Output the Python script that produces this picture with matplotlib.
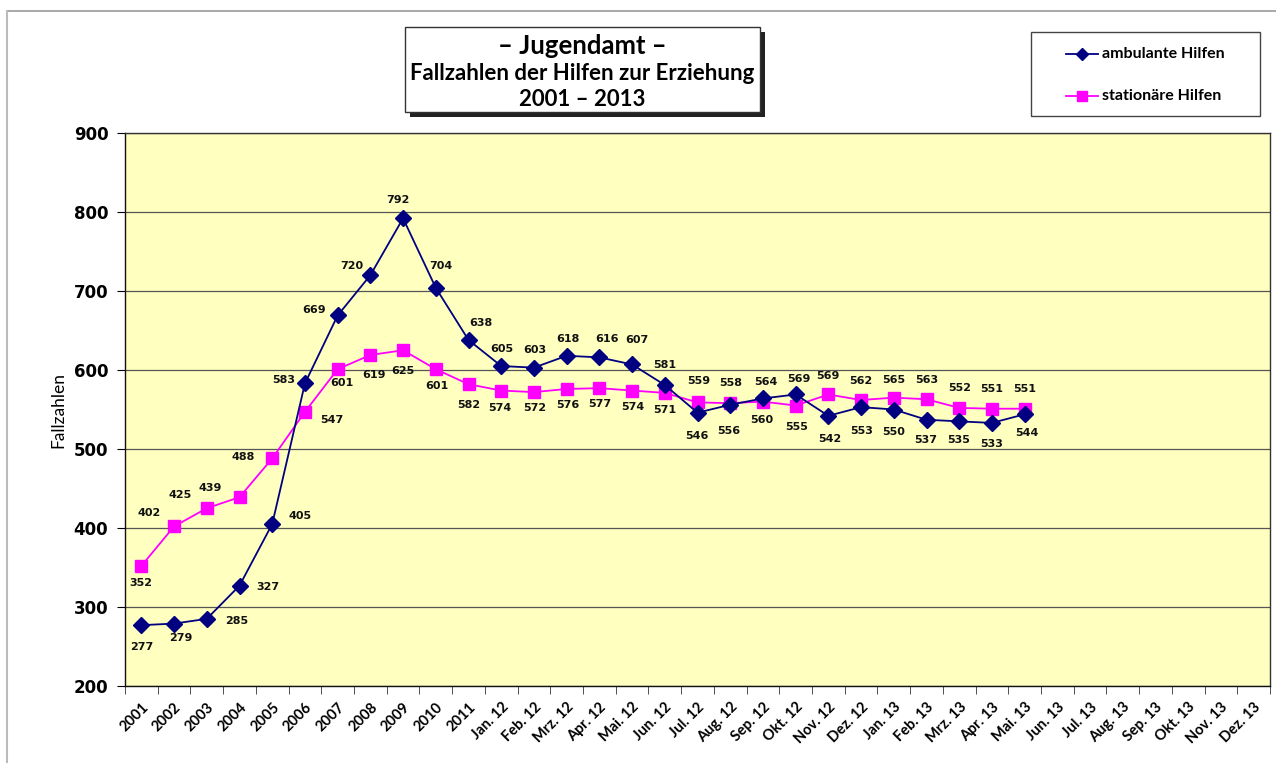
import matplotlib
matplotlib.use("Agg")
import matplotlib.pyplot as plt
from matplotlib.patches import Rectangle
from matplotlib.lines import Line2D

# categories on the x axis
years = [str(y) for y in range(2001, 2012)]
months = ["Jan.", "Feb.", "Mrz.", "Apr.", "Mai.", "Jun.",
          "Jul.", "Aug.", "Sep.", "Okt.", "Nov.", "Dez."]
categories = years + [m + " 12" for m in months] + [m + " 13" for m in months]

# case numbers (data until Mai. 13)
ambulant = [277, 279, 285, 327, 405, 583, 669, 720, 792, 704, 638,
            605, 603, 618, 616, 607, 581, 546, 556, 564, 569, 542, 553,
            550, 537, 535, 533, 544]
stationaer = [352, 402, 425, 439, 488, 547, 601, 619, 625, 601, 582,
              574, 572, 576, 577, 574, 571, 559, 558, 560, 555, 569, 562,
              565, 563, 552, 551, 551]

# where each data label sits relative to its point (pixels)
amb_off = [(0, -22), (7, -14), (30, -2), (28, -1), (28, 8), (-21, 3),
           (-24, 5), (-19, 9), (-5, 18), (5, 22), (12, 17), (1, 17),
           (1, 18), (1, 17), (8, 18), (5, 24), (0, 20), (-1, -23),
           (-1, -26), (3, 16), (3, 15), (1, -23), (1, -24), (0, -22),
           (-1, -20), (-1, -19), (0, -21), (2, -19)]
sta_off = [(-1, -17), (-25, 13), (-27, 13), (-29, 9), (-29, 1), (27, -8),
           (4, -14), (4, -20), (0, -21), (1, -17), (0, -21), (-1, -17),
           (1, -16), (1, -16), (0, -16), (1, -16), (0, -17), (1, 21),
           (0, 20), (-1, -18), (1, -21), (0, 18), (0, 19), (0, 18),
           (0, 19), (0, 20), (0, 20), (0, 20)]

navy = "#000080"
pink = "#FF00FF"
W, H = 1276, 763

fig = plt.figure(figsize=(W / 100, H / 100), dpi=100)
ax = fig.add_axes([125 / W, 1 - 686 / H, 1145 / W, 553 / H])
ax.set_facecolor("#FFFFC0")

# outer frame lines of the chart area
fig.add_artist(Line2D([7 / W, 1], [1 - 11 / H, 1 - 11 / H],
                      color="#999999", lw=1.2))
fig.add_artist(Line2D([7 / W, 7 / W], [0, 1 - 11 / H],
                      color="#bbbbbb", lw=1.5))

x_amb = list(range(len(ambulant)))
x_sta = list(range(len(stationaer)))

ax.plot(x_sta, stationaer, color=pink, lw=1.3, marker="s", ms=8.5,
        zorder=3)
ax.plot(x_amb, ambulant, color=navy, lw=1.3, marker="D", ms=8,
        zorder=4)

for x, v, o in zip(x_amb, ambulant, amb_off):
    ax.annotate(str(v), (x, v), xytext=o, textcoords="offset pixels",
                ha="center", va="center", fontsize=8, fontweight="bold",
                color="#111111", zorder=5)
for x, v, o in zip(x_sta, stationaer, sta_off):
    ax.annotate(str(v), (x, v), xytext=o, textcoords="offset pixels",
                ha="center", va="center", fontsize=8, fontweight="bold",
                color="#111111", zorder=5)

ax.set_ylim(200, 900)
ax.set_yticks(range(200, 901, 100))
ax.yaxis.grid(True, color="#555555", lw=0.9)
ax.set_axisbelow(True)
ax.tick_params(axis="y", direction="out", length=6, pad=6, labelsize=12)
for lab in ax.get_yticklabels():
    lab.set_fontweight("bold")
ax.set_ylabel("Fallzahlen", fontsize=12.5, family="Lato", labelpad=5)

ax.set_xlim(-0.5, len(categories) - 0.5)
ax.set_xticks(range(len(categories)))
ax.set_xticklabels(categories, rotation=45, ha="right",
                   rotation_mode="anchor", family="Lato",
                   fontweight="bold", fontsize=10.5)
ax.tick_params(axis="x", length=0, pad=10)
ax.set_xticks([i - 0.5 for i in range(len(categories) + 1)], minor=True)
ax.tick_params(axis="x", which="minor", direction="out", length=6,
               color="#333333")

for s in ax.spines.values():
    s.set_color("#333333")
    s.set_linewidth(1.0)
ax.spines["left"].set_color("#111111")
ax.spines["bottom"].set_color("#111111")

# title box with shadow
bx, by, bw, bh = 405, 27, 355, 85
fig.add_artist(Rectangle(((bx + 5) / W, 1 - (by + bh + 5) / H),
                         bw / W, bh / H, transform=fig.transFigure,
                         facecolor="#222222", edgecolor="none"))
fig.add_artist(Rectangle((bx / W, 1 - (by + bh) / H), bw / W,
                         bh / H, transform=fig.transFigure,
                         facecolor="white", edgecolor="#333333", lw=1.0))
cx = (bx + bw / 2) / W
fig.text(cx, 1 - 46 / H, "– Jugendamt –", ha="center", va="center",
         family="Lato", fontweight="bold", fontsize=18.5)
fig.text(cx, 1 - 74 / H, "Fallzahlen der Hilfen zur Erziehung",
         ha="center", va="center", family="Lato", fontweight="bold",
         fontsize=16)
fig.text(cx, 1 - 99 / H, "2001 – 2013", ha="center", va="center",
         family="Lato", fontweight="bold", fontsize=16)

# legend box, drawn by hand
lx, ly, lw_, lh = 1031, 32, 229, 84
fig.add_artist(Rectangle((lx / W, 1 - (ly + lh) / H), lw_ / W, lh / H,
                         transform=fig.transFigure, facecolor="white",
                         edgecolor="#444444", lw=1.0))
legend_rows = [("ambulante Hilfen", navy, "D", 6, 54),
               ("stationäre Hilfen", pink, "s", 7.5, 96)]
for text, col, mk, size, yy in legend_rows:
    fy = 1 - yy / H
    fig.add_artist(Line2D([1066 / W, 1098 / W], [fy, fy], color=col,
                          lw=1.3, transform=fig.transFigure))
    fig.add_artist(Line2D([1082 / W], [fy], color=col, marker=mk,
                          ms=size, transform=fig.transFigure))
    fig.text(1102 / W, fy, text, ha="left", va="center", family="Lato",
             fontweight="bold", fontsize=11.5)

fig.savefig("out.png", dpi=100, facecolor="white")
